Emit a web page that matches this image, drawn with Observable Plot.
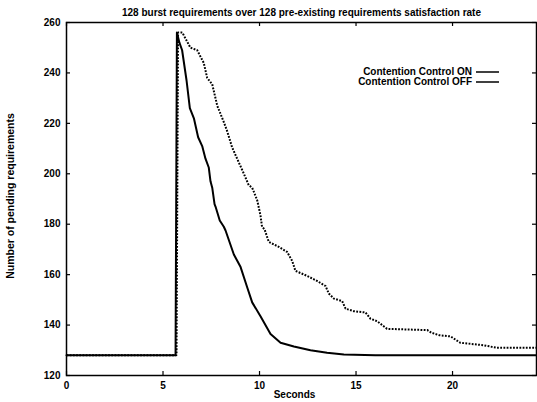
<!DOCTYPE html>
<html>
<head>
<meta charset="utf-8">
<script src="https://cdn.jsdelivr.net/npm/d3@7"></script>
<script src="https://cdn.jsdelivr.net/npm/@observablehq/plot@0.6"></script>
<style>
  html, body { margin: 0; padding: 0; background: white; }
</style>
</head>
<body>
<div id="chart"></div>
<script>
const titleText = "128 burst requirements over 128 pre-existing requirements satisfaction rate";
const xLabel = "Seconds";
const yLabel = "Number of pending requirements";
const seriesNames = ["Contention Control ON", "Contention Control OFF"];
const xTicks = [0, 5, 10, 15, 20];
const yTicks = [120, 140, 160, 180, 200, 220, 240, 260];
const xDomain = [0, 24.35];
const yDomain = [120, 260];

const onT = [0, 5.65, 5.72, 5.85, 5.99, 6.22, 6.39, 6.6, 6.82, 7.03, 7.2, 7.37, 7.46, 7.55, 7.67, 7.72, 7.94, 8.15, 8.24, 8.67, 9.02, 9.36, 9.62, 10.05, 10.57, 11.09, 11.78, 12.64, 13.5, 14.37, 16, 24.35];
const onV = [128, 128, 256, 252, 249, 237, 226, 222, 214.5, 211, 206, 202.5, 197, 194.5, 188, 187, 181.5, 179, 177.5, 168, 163, 155, 149, 143.5, 136.5, 133, 131.5, 130, 129, 128.3, 128, 128];

const offT = [0, 5.7, 5.78, 6.0, 6.42, 6.77, 7.11, 7.29, 7.55, 7.81, 8.15, 8.32, 8.58, 8.84, 9.19, 9.44, 9.62, 9.88, 10.05, 10.13, 10.26, 10.48, 11.0, 11.43, 11.69, 11.86, 12.47, 12.98, 13.42, 13.59, 13.85, 14.28, 14.46, 14.89, 15.49, 15.75, 16.1, 16.61, 18.7, 18.9, 19.3, 19.9, 20.4, 21.6, 22.3, 24.35];
const offV = [128, 128, 256, 256, 250, 249, 244, 238, 235.5, 227, 220.5, 217, 210.5, 206, 200, 195.5, 194.5, 189.5, 183.5, 179, 178, 173, 171, 169, 165.5, 161.5, 159.5, 157.5, 155.5, 152.5, 150.5, 149.5, 146.5, 145.5, 145, 142.5, 141.5, 138.5, 138, 137, 136, 135.5, 133, 132, 131, 131];

const onData = onT.map((t, i) => ({t, v: onV[i]}));
const offData = offT.map((t, i) => ({t, v: offV[i]}));

const font = "'Liberation Sans', Arial, Helvetica, sans-serif";
const W = 537, H = 402, ML = 66, MR = 1, MT = 22, MB = 27;
const frameW = W - ML - MR, frameH = H - MT - MB, tickLen = 4;

const plot = Plot.plot({
  width: W,
  height: H,
  marginLeft: ML,
  marginRight: MR,
  marginTop: MT,
  marginBottom: MB,
  style: {fontFamily: font, fontSize: "10px", fontWeight: "bold", background: "white", color: "black"},
  x: {domain: xDomain, label: null},
  y: {domain: yDomain, label: null},
  marks: [
    Plot.axisX({ticks: xTicks, tickSize: 0, tickPadding: 6, label: null}),
    Plot.axisY({ticks: yTicks, tickSize: 0, tickPadding: 6, label: null}),
    // inward ticks on all four sides
    Plot.tickX(xTicks, {x: d => d, insetTop: frameH - tickLen, stroke: "black", strokeWidth: 1.2}),
    Plot.tickX(xTicks, {x: d => d, insetBottom: frameH - tickLen, stroke: "black", strokeWidth: 1.2}),
    Plot.tickY(yTicks, {y: d => d, insetRight: frameW - tickLen, stroke: "black", strokeWidth: 1.2}),
    Plot.tickY(yTicks, {y: d => d, insetLeft: frameW - tickLen, stroke: "black", strokeWidth: 1.2}),
    Plot.frame({stroke: "black", strokeWidth: 1.5}),
    Plot.line(onData, {x: "t", y: "v", stroke: "black", strokeWidth: 2}),
    Plot.line(offData, {x: "t", y: "v", stroke: "black", strokeWidth: 2, strokeDasharray: "1.8,1.4", strokeLinecap: "butt", strokeLinejoin: "miter"}),
    Plot.text([titleText], {frameAnchor: "top", dy: -14, fontSize: 10, fontWeight: "bold"}),
    Plot.text([xLabel], {frameAnchor: "bottom", dy: 22, dx: -7, fontSize: 10, fontWeight: "bold"}),
    Plot.text([yLabel], {frameAnchor: "left", textAnchor: "middle", dx: -56, dy: -3, rotate: -90, fontSize: 10.5, fontWeight: "bold"})
  ]
});

// legend
const svg = d3.select(plot);
const legend = svg.append("g").attr("font-family", font).attr("font-size", 10).attr("font-weight", "bold");
seriesNames.forEach((name, i) => {
  const y = 72 + i * 10;
  legend.append("text").attr("x", 472).attr("y", y).attr("dy", "0.32em").attr("text-anchor", "end").attr("fill", "black").text(name);
  legend.append("line").attr("x1", 476).attr("x2", 499).attr("y1", y).attr("y2", y).attr("stroke", "black").attr("stroke-width", 1.5);
});

document.getElementById("chart").append(plot);
</script>
</body>
</html>
